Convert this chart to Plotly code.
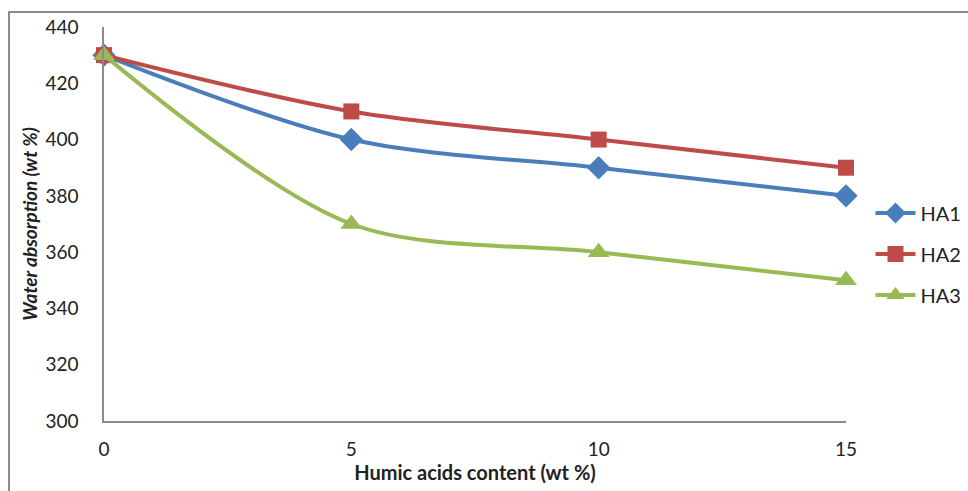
import plotly.graph_objects as go

x_vals = [0, 5, 10, 15]
ha1 = [430, 400, 390, 380]
ha2 = [430, 410, 400, 390]
ha3 = [430, 370, 360, 350]
series_names = ["HA1", "HA2", "HA3"]
colors = ["#4A7EBB", "#BE4B48", "#98B954"]
symbols = ["diamond", "square", "triangle-up"]
msizes = [18, 16, 19]
y_ticks = [300, 320, 340, 360, 380, 400, 420, 440]

FONT = "Lato, Liberation Sans, sans-serif"
fig = go.Figure()
legend_ids = ["legend", "legend2", "legend3"]
for name, ys, c, s, ms, lg in zip(series_names, [ha1, ha2, ha3], colors, symbols, msizes, legend_ids):
    fig.add_trace(go.Scatter(
        x=x_vals, y=ys, name=name, mode="lines+markers",
        line=dict(color=c, width=4, shape="spline", smoothing=0.9),
        marker=dict(symbol=s, size=ms, color=c),
        legend=lg, showlegend=True,
    ))

legend_common = dict(font=dict(family=FONT, size=20, color="#222"), bgcolor="rgba(0,0,0,0)",
                     xanchor="left", yanchor="middle", x=1.033, itemwidth=40, visible=True)
W, H = 968, 491
ml, mr, mt, mb = 104, 122, 27, 70
ph = H - mt - mb
def ypaper(py):
    return (H - mb - py) / ph

fig.update_layout(
    width=W, height=H,
    margin=dict(l=ml, r=mr, t=mt, b=mb, autoexpand=False),
    showlegend=True,
    paper_bgcolor="white", plot_bgcolor="white",
    font=dict(family=FONT, size=19, color="#222"),
    legend=dict(**legend_common, y=ypaper(213)),
    legend2=dict(**legend_common, y=ypaper(254)),
    legend3=dict(**legend_common, y=ypaper(295)),
    xaxis=dict(range=[0, 15], tickvals=x_vals, ticktext=[str(v) for v in x_vals],
               showgrid=False, zeroline=False, showline=True, linecolor="#8c8c8c", linewidth=1.5,
               ticks="", tickfont=dict(size=19), ticklabelstandoff=10,
               title=dict(text="<b>Humic acids content (wt %)</b>", font=dict(size=20), standoff=6)),
    yaxis=dict(range=[300, 440], tickvals=y_ticks, showgrid=False, zeroline=False,
               showline=True, linecolor="#8c8c8c", linewidth=1.5, ticks="",
               tickfont=dict(size=19), ticklabelstandoff=20,
               title=dict(text="<b><i>Water absorption (wt %)</i></b>", font=dict(size=19), standoff=3)),
    shapes=[dict(type="rect", xref="paper", yref="paper",
                 x0=(9 - ml) / (W - ml - mr), x1=(W + 20 - ml) / (W - ml - mr),
                 y0=ypaper(H + 20), y1=ypaper(12),
                 line=dict(color="#8c8c8c", width=2), fillcolor="rgba(0,0,0,0)", layer="below")],
)
fig.update_traces(cliponaxis=False)
fig.write_html("out.html")
